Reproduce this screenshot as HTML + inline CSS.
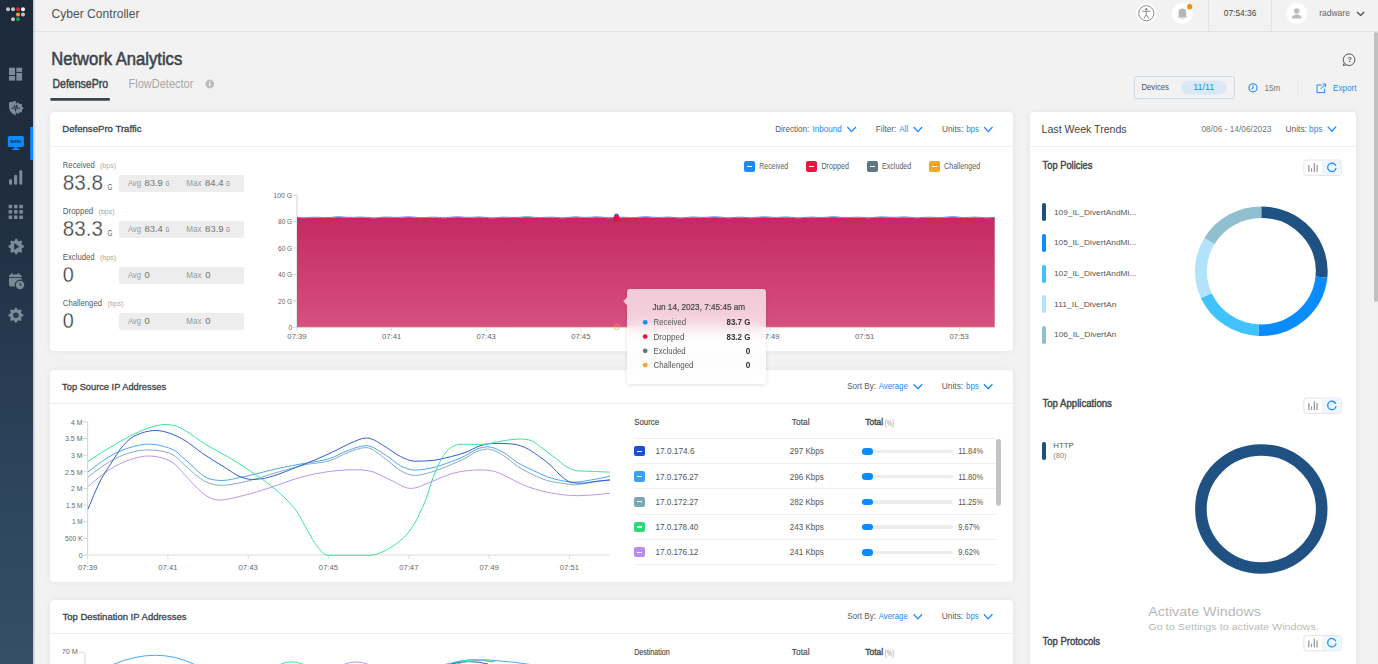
<!DOCTYPE html><html><head><meta charset="utf-8"><style>
*{margin:0;padding:0;box-sizing:border-box}
html,body{width:1378px;height:664px;overflow:hidden;background:#f2f2f2;font-family:"Liberation Sans",sans-serif}
.t{position:absolute;white-space:nowrap;line-height:1;transform-origin:0 0}
.a{position:absolute}
svg{position:absolute;overflow:visible}
.tx{left:0;top:0;font-family:'Liberation Sans',sans-serif}
.card{position:absolute;background:#fff;border-radius:4px;box-shadow:0 0 6px rgba(0,0,0,0.07)}
</style></head><body>

<div class="a" style="left:33px;top:31px;width:1345px;height:1px;background:#e2e2e2;"></div>
<svg class="tx" width="1378" height="664"><text x="51.50" y="18.10" font-size="13.20" fill="#4d5257" textLength="88.01" lengthAdjust="spacingAndGlyphs">Cyber Controller</text></svg>
<svg style="left:0;top:0" width="1378" height="32">
<circle cx="1146.3" cy="13.3" r="10.3" fill="#fff"/>
<circle cx="1146.3" cy="13.3" r="7.6" fill="none" stroke="#8a8a8a" stroke-width="1"/>
<circle cx="1146.3" cy="9.2" r="1.2" fill="#8a8a8a"/>
<path d="M1142.3,11.3 L1150.3,11.3 M1146.3,11.3 L1146.3,14.6 L1143.9,18.4 M1146.3,14.6 L1148.7,18.4" stroke="#8a8a8a" stroke-width="1" fill="none"/>
<circle cx="1182.4" cy="13.4" r="10.5" fill="#fff"/>
<path d="M1178.6,16.6 L1178.6,12.2 Q1178.6,8.4 1182.4,8.4 Q1186.2,8.4 1186.2,12.2 L1186.2,16.6 L1187.3,17.4 L1177.5,17.4 Z" fill="#b5b5b5"/>
<rect x="1181.4" y="18.3" width="2" height="1" fill="#b5b5b5"/>
<circle cx="1189.7" cy="6.7" r="2.6" fill="#ff8a00"/>
<rect x="1208" y="0" width="1" height="31" fill="#e2e2e2"/>
<rect x="1271" y="0" width="1" height="31" fill="#e2e2e2"/>
<circle cx="1296.7" cy="13.3" r="10.5" fill="#fff"/>
<circle cx="1296.7" cy="11" r="2.8" fill="#bdbdbd"/>
<path d="M1291.6,18.6 Q1291.8,14.6 1296.7,14.4 Q1301.6,14.6 1301.8,18.6 Z" fill="#bdbdbd"/>
<path d="M1357,12 L1360.6,15.4 L1364.2,12" stroke="#444" stroke-width="1.2" fill="none"/>
</svg>
<svg class="tx" width="1378" height="664"><text x="1223.80" y="16.20" font-size="9.00" fill="#444" textLength="32.58" lengthAdjust="spacingAndGlyphs">07:54:36</text><text x="1319.20" y="16.20" font-size="9.60" fill="#666" textLength="30.68" lengthAdjust="spacingAndGlyphs">radware</text></svg>
<div class="a" style="left:0;top:0;width:33px;height:664px;background:linear-gradient(#1d2a3b,#1f2d3f 30%,#2c435b 70%,#354f69);box-shadow:1px 0 2px rgba(0,0,0,0.25)"></div>
<svg style="left:0;top:0" width="34" height="664">
<g>
<circle cx="8" cy="9.3" r="2" fill="#c5c5c5"/><circle cx="13" cy="9.3" r="2" fill="#c5c5c5"/>
<circle cx="18" cy="9.3" r="2" fill="#d9262c"/><circle cx="23" cy="9.3" r="2" fill="#fff"/>
<circle cx="18" cy="14.4" r="2" fill="#f5a623"/><circle cx="23" cy="14.4" r="2" fill="#c5c5c5"/>
<circle cx="13" cy="19.3" r="2" fill="#c5c5c5"/><circle cx="18" cy="19.3" r="2" fill="#1f9a3a"/>
</g>
<g fill="#7c8998">
<rect x="9" y="67.7" width="6" height="7.4"/><rect x="9" y="76" width="6" height="4.6"/>
<rect x="16.3" y="67.7" width="5.8" height="4.2"/><rect x="16.3" y="72.9" width="5.8" height="7.7"/>
</g>
<g fill="#7c8998">
<path d="M15.8,100.7 Q12.4,101.9 9,102.3 L9,107 Q9.3,112.8 15.8,115.5 Z"/>
<path d="M17.14,102.53 L18.26,102.53 L19.01,103.89 L19.82,104.23 L21.32,103.79 L22.11,104.58 L21.67,106.08 L22.01,106.89 L23.37,107.64 L23.37,108.76 L22.01,109.51 L21.67,110.32 L22.11,111.82 L21.32,112.61 L19.82,112.17 L19.01,112.51 L18.26,113.87 L17.14,113.87 L16.39,112.51 L15.58,112.17 L14.08,112.61 L13.29,111.82 L13.73,110.32 L13.39,109.51 L12.03,108.76 L12.03,107.64 L13.39,106.89 L13.73,106.08 L13.29,104.58 L14.08,103.79 L15.58,104.23 L16.39,103.89 Z"/>
<circle cx="17.7" cy="108.2" r="4.6"/>
</g>
<path d="M11.4,108.3 L13.6,108.3 L14.6,105.4 L15.6,111.2 L16.6,105.0 L17.6,108.3 L19.8,108.3" stroke="#1f2d3f" stroke-width="0.9" fill="none"/>
<g fill="#0a8cff">
<rect x="7.8" y="136.1" width="16.1" height="10.9" rx="1.5"/>
<rect x="14.6" y="146.5" width="2.1" height="2.5"/>
<rect x="12.1" y="148.6" width="7.3" height="1.4" rx="0.7"/>
</g>
<text x="15.85" y="143.4" font-family="Liberation Sans" font-weight="bold" font-size="6.2" fill="#1f2d3f" text-anchor="middle" textLength="11" lengthAdjust="spacingAndGlyphs">ams</text>
<rect x="30.2" y="127" width="2.8" height="33" fill="#0a8cff"/>
<g fill="#7c8998">
<rect x="9" y="179" width="3.1" height="5.8" rx="1.5"/>
<rect x="14" y="174.8" width="3.2" height="10" rx="1.5"/>
<rect x="19.3" y="170" width="3" height="14.8" rx="1.5"/>
</g>
<g fill="#7c8998">
<rect x="8.6" y="204.8" width="3.5" height="3.5"/><rect x="14" y="204.8" width="3.5" height="3.5"/><rect x="19.3" y="204.8" width="3.6" height="3.5"/>
<rect x="8.6" y="210.1" width="3.5" height="3.5"/><rect x="14" y="210.1" width="3.5" height="3.5"/><rect x="19.3" y="210.1" width="3.6" height="3.5"/>
<rect x="8.6" y="215.5" width="3.5" height="3.5"/><rect x="14" y="215.5" width="3.5" height="3.5"/><rect x="19.3" y="215.5" width="3.6" height="3.5"/>
</g>
</svg>
<svg style="left:0;top:0" width="34" height="664">
<path d="M15.44,238.84 L16.96,238.84 L17.94,240.86 L19.03,241.31 L21.15,240.57 L22.23,241.65 L21.49,243.77 L21.94,244.86 L23.96,245.84 L23.96,247.36 L21.94,248.34 L21.49,249.43 L22.23,251.55 L21.15,252.63 L19.03,251.89 L17.94,252.34 L16.96,254.36 L15.44,254.36 L14.46,252.34 L13.37,251.89 L11.25,252.63 L10.17,251.55 L10.91,249.43 L10.46,248.34 L8.44,247.36 L8.44,245.84 L10.46,244.86 L10.91,243.77 L10.17,241.65 L11.25,240.57 L13.37,241.31 L14.46,240.86 Z" fill="#7c8998"/>
<path d="M14.2,243.2 L14.2,250 L19.3,246.6 Z" fill="#22344a"/>
<rect x="9" y="274.5" width="12.5" height="12" rx="1.8" fill="#7c8998"/>
<rect x="11.2" y="273.2" width="1.6" height="2.8" fill="#7c8998"/><rect x="17.6" y="273.2" width="1.6" height="2.8" fill="#7c8998"/>
<rect x="9" y="277" width="12.5" height="0.9" fill="#26384d"/>
<circle cx="20" cy="285" r="4.8" fill="#7c8998" stroke="#26384d" stroke-width="1.2"/>
<path d="M20,282.4 L20,285.2 L22,285.2" stroke="#26384d" stroke-width="0.9" fill="none"/>
<path d="M15.16,307.74 L16.64,307.74 L17.58,309.65 L18.63,310.08 L20.66,309.40 L21.70,310.44 L21.02,312.47 L21.45,313.52 L23.36,314.46 L23.36,315.94 L21.45,316.88 L21.02,317.93 L21.70,319.96 L20.66,321.00 L18.63,320.32 L17.58,320.75 L16.64,322.66 L15.16,322.66 L14.22,320.75 L13.17,320.32 L11.14,321.00 L10.10,319.96 L10.78,317.93 L10.35,316.88 L8.44,315.94 L8.44,314.46 L10.35,313.52 L10.78,312.47 L10.10,310.44 L11.14,309.40 L13.17,310.08 L14.22,309.65 Z" fill="#7c8998"/>
<circle cx="15.9" cy="315.2" r="2.8" fill="#283c52"/>
</svg>
<svg class="tx" width="1378" height="664"><text x="51.20" y="65.10" font-size="18.00" fill="#3d4349" stroke="#3d4349" stroke-width="0.55" textLength="131.03" lengthAdjust="spacingAndGlyphs">Network Analytics</text><text x="52.40" y="88.00" font-size="11.90" fill="#3d4349" stroke="#3d4349" stroke-width="0.45" textLength="55.81" lengthAdjust="spacingAndGlyphs">DefensePro</text><text x="128.60" y="88.00" font-size="11.90" fill="#a8a8a8" textLength="64.71" lengthAdjust="spacingAndGlyphs">FlowDetector</text></svg>
<svg style="left:0;top:0" width="1378" height="110">
<circle cx="209.8" cy="84" r="4.4" fill="#bcbcbc"/>
<rect x="209.2" y="83" width="1.2" height="3.2" fill="#fff"/><rect x="209.2" y="81.2" width="1.2" height="1.1" fill="#fff"/>
<rect x="50.2" y="98.1" width="59.8" height="2.6" rx="1.3" fill="#3d4349"/>
<circle cx="1349.1" cy="59.7" r="5.8" fill="none" stroke="#555" stroke-width="1"/>
<path d="M1344.2,63.2 L1343.2,65.6 L1346.4,64.6" fill="#f2f2f2" stroke="#555" stroke-width="1"/>
<rect x="1134.3" y="76.6" width="100" height="22" rx="2" fill="none" stroke="#cdd8e3" stroke-width="1"/>
<rect x="1181.1" y="80.7" width="45.6" height="14.1" rx="7" fill="#dbe9f6"/>
<circle cx="1253" cy="87.8" r="4.1" fill="none" stroke="#1a8cff" stroke-width="1.1"/>
<path d="M1253,85.3 L1253,88 L1251.2,89.2" stroke="#1a8cff" stroke-width="1" fill="none"/>
<rect x="1297.5" y="78.7" width="0.8" height="20" fill="#e6e6e6"/>
<path d="M1321.5,85 L1317,85 L1317,92.6 L1324.6,92.6 L1324.6,88.6" stroke="#1a8cff" stroke-width="1" fill="none"/>
<path d="M1320.6,89 L1325.6,84 M1322.6,84 L1325.6,84 L1325.6,87" stroke="#1a8cff" stroke-width="1" fill="none"/>
</svg>
<svg class="tx" width="1378" height="664"><text x="1347.40" y="62.30" font-size="7.00" fill="#555" font-weight="bold">?</text><text x="1141.40" y="90.10" font-size="8.60" fill="#555" textLength="27.61" lengthAdjust="spacingAndGlyphs">Devices</text><text x="1193.30" y="90.10" font-size="8.60" fill="#1a8cff" textLength="20.99" lengthAdjust="spacingAndGlyphs">11/11</text><text x="1264.40" y="90.60" font-size="8.60" fill="#777" textLength="15.80" lengthAdjust="spacingAndGlyphs">15m</text><text x="1333.00" y="91.20" font-size="8.60" fill="#1a8cff" textLength="23.60" lengthAdjust="spacingAndGlyphs">Export</text></svg>
<div class="card" style="left:50px;top:112px;width:963px;height:238.8px"></div>
<div class="card" style="left:50px;top:369.5px;width:963px;height:212.2px"></div>
<div class="card" style="left:50px;top:599.5px;width:963px;height:100px"></div>
<div class="card" style="left:1030px;top:112px;width:326px;height:600px"></div>
<div class="a" style="left:50px;top:146px;width:963px;height:1px;background:#f0f0f0;"></div>
<div class="a" style="left:1030px;top:146px;width:326px;height:1px;background:#f0f0f0;"></div>
<div class="a" style="left:50px;top:403px;width:963px;height:1px;background:#ededed;"></div>
<div class="a" style="left:50px;top:633px;width:963px;height:1px;background:#ededed;"></div>
<svg class="tx" width="1378" height="664"><text x="62.30" y="131.90" font-size="9.50" fill="#3d4349" stroke="#3d4349" stroke-width="0.3" textLength="79.19" lengthAdjust="spacingAndGlyphs">DefensePro Traffic</text><text x="775.20" y="132.00" font-size="9.00" fill="#575c61" textLength="34.09" lengthAdjust="spacingAndGlyphs">Direction:</text><text x="812.40" y="132.00" font-size="9.00" fill="#1a8cff" textLength="29.30" lengthAdjust="spacingAndGlyphs">Inbound</text></svg>
<svg style="left:0;top:0" width="1" height="1"><path d="M847.4,127.0 L851.6,131.6 L855.8,127.0" stroke="#1a8cff" stroke-width="1.3" fill="none"/></svg>
<svg class="tx" width="1378" height="664"><text x="875.80" y="132.00" font-size="9.00" fill="#575c61" textLength="20.50" lengthAdjust="spacingAndGlyphs">Filter:</text><text x="899.20" y="132.00" font-size="9.00" fill="#1a8cff" textLength="9.01" lengthAdjust="spacingAndGlyphs">All</text></svg>
<svg style="left:0;top:0" width="1" height="1"><path d="M913.7,127.0 L917.9000000000001,131.6 L922.1,127.0" stroke="#1a8cff" stroke-width="1.3" fill="none"/></svg>
<svg class="tx" width="1378" height="664"><text x="942.00" y="132.00" font-size="9.00" fill="#575c61" textLength="21.21" lengthAdjust="spacingAndGlyphs">Units:</text><text x="966.20" y="132.00" font-size="9.00" fill="#1a8cff" textLength="12.82" lengthAdjust="spacingAndGlyphs">bps</text></svg>
<svg style="left:0;top:0" width="1" height="1"><path d="M984.1,127.0 L988.3000000000001,131.6 L992.5,127.0" stroke="#1a8cff" stroke-width="1.3" fill="none"/></svg>
<svg class="tx" width="1378" height="664"><text x="62.80" y="167.70" font-size="8.60" fill="#575c61" textLength="32.09" lengthAdjust="spacingAndGlyphs">Received</text><text x="100.00" y="167.90" font-size="8.00" fill="#aaa" textLength="16.09" lengthAdjust="spacingAndGlyphs">(bps)</text><text x="62.80" y="190.10" font-size="21.30" fill="#3a3f44" stroke="#fff" stroke-width="0.3" textLength="40.33" lengthAdjust="spacingAndGlyphs">83.8</text><text x="107.40" y="189.80" font-size="8.20" fill="#666" textLength="4.89" lengthAdjust="spacingAndGlyphs">G</text></svg>
<div class="a" style="left:119.4px;top:175.2px;width:124.8px;height:16.6px;background:#ededed;border-radius:2px"></div>
<svg class="tx" width="1378" height="664"><text x="127.90" y="185.90" font-size="9.40" fill="#9a9a9a" textLength="13.10" lengthAdjust="spacingAndGlyphs">Avg</text><text x="144.40" y="185.90" font-size="9.40" fill="#555" stroke="#ededed" stroke-width="0.12" textLength="18.41" lengthAdjust="spacingAndGlyphs">83.9</text><text x="165.40" y="186.40" font-size="7.00" fill="#777" textLength="3.89" lengthAdjust="spacingAndGlyphs">G</text><text x="186.30" y="185.90" font-size="9.40" fill="#9a9a9a" textLength="15.19" lengthAdjust="spacingAndGlyphs">Max</text><text x="205.00" y="185.90" font-size="9.40" fill="#555" stroke="#ededed" stroke-width="0.12" textLength="18.61" lengthAdjust="spacingAndGlyphs">84.4</text><text x="226.00" y="186.40" font-size="7.00" fill="#777" textLength="3.89" lengthAdjust="spacingAndGlyphs">G</text><text x="62.80" y="213.70" font-size="8.60" fill="#575c61" textLength="30.41" lengthAdjust="spacingAndGlyphs">Dropped</text><text x="98.60" y="213.90" font-size="8.00" fill="#aaa" textLength="16.09" lengthAdjust="spacingAndGlyphs">(bps)</text><text x="62.80" y="236.10" font-size="21.30" fill="#3a3f44" stroke="#fff" stroke-width="0.3" textLength="40.03" lengthAdjust="spacingAndGlyphs">83.3</text><text x="107.40" y="235.80" font-size="8.20" fill="#666" textLength="4.89" lengthAdjust="spacingAndGlyphs">G</text></svg>
<div class="a" style="left:119.4px;top:221.2px;width:124.8px;height:16.6px;background:#ededed;border-radius:2px"></div>
<svg class="tx" width="1378" height="664"><text x="127.90" y="231.90" font-size="9.40" fill="#9a9a9a" textLength="13.10" lengthAdjust="spacingAndGlyphs">Avg</text><text x="144.40" y="231.90" font-size="9.40" fill="#555" stroke="#ededed" stroke-width="0.12" textLength="18.41" lengthAdjust="spacingAndGlyphs">83.4</text><text x="165.40" y="232.40" font-size="7.00" fill="#777" textLength="3.89" lengthAdjust="spacingAndGlyphs">G</text><text x="186.30" y="231.90" font-size="9.40" fill="#9a9a9a" textLength="15.19" lengthAdjust="spacingAndGlyphs">Max</text><text x="205.00" y="231.90" font-size="9.40" fill="#555" stroke="#ededed" stroke-width="0.12" textLength="18.61" lengthAdjust="spacingAndGlyphs">83.9</text><text x="226.00" y="232.40" font-size="7.00" fill="#777" textLength="3.89" lengthAdjust="spacingAndGlyphs">G</text><text x="62.80" y="259.70" font-size="8.60" fill="#575c61" textLength="31.79" lengthAdjust="spacingAndGlyphs">Excluded</text><text x="100.00" y="259.90" font-size="8.00" fill="#aaa" textLength="16.09" lengthAdjust="spacingAndGlyphs">(bps)</text><text x="62.80" y="282.10" font-size="21.30" fill="#3a3f44" stroke="#fff" stroke-width="0.3" textLength="11.02" lengthAdjust="spacingAndGlyphs">0</text></svg>
<div class="a" style="left:119.4px;top:267.2px;width:124.8px;height:16.6px;background:#ededed;border-radius:2px"></div>
<svg class="tx" width="1378" height="664"><text x="127.90" y="277.90" font-size="9.40" fill="#9a9a9a" textLength="13.10" lengthAdjust="spacingAndGlyphs">Avg</text><text x="144.60" y="277.90" font-size="9.40" fill="#555" stroke="#ededed" stroke-width="0.12">0</text><text x="186.30" y="277.90" font-size="9.40" fill="#9a9a9a" textLength="15.19" lengthAdjust="spacingAndGlyphs">Max</text><text x="205.20" y="277.90" font-size="9.40" fill="#555" stroke="#ededed" stroke-width="0.12">0</text><text x="62.80" y="305.70" font-size="8.60" fill="#575c61" textLength="39.20" lengthAdjust="spacingAndGlyphs">Challenged</text><text x="107.60" y="305.90" font-size="8.00" fill="#aaa" textLength="16.09" lengthAdjust="spacingAndGlyphs">(bps)</text><text x="62.80" y="328.10" font-size="21.30" fill="#3a3f44" stroke="#fff" stroke-width="0.3" textLength="11.02" lengthAdjust="spacingAndGlyphs">0</text></svg>
<div class="a" style="left:119.4px;top:313.2px;width:124.8px;height:16.6px;background:#ededed;border-radius:2px"></div>
<svg class="tx" width="1378" height="664"><text x="127.90" y="323.90" font-size="9.40" fill="#9a9a9a" textLength="13.10" lengthAdjust="spacingAndGlyphs">Avg</text><text x="144.60" y="323.90" font-size="9.40" fill="#555" stroke="#ededed" stroke-width="0.12">0</text><text x="186.30" y="323.90" font-size="9.40" fill="#9a9a9a" textLength="15.19" lengthAdjust="spacingAndGlyphs">Max</text><text x="205.20" y="323.90" font-size="9.40" fill="#555" stroke="#ededed" stroke-width="0.12">0</text></svg>
<div class="a" style="left:743.9px;top:161.1px;width:10.8px;height:10.8px;background:#1a8cff;border-radius:2px"></div>
<div class="a" style="left:747.0px;top:165.8px;width:4.8px;height:1.3px;background:#fff;"></div>
<svg class="tx" width="1378" height="664"><text x="759.30" y="169.10" font-size="8.30" fill="#606060" textLength="28.89" lengthAdjust="spacingAndGlyphs">Received</text></svg>
<div class="a" style="left:805.9px;top:161.1px;width:10.8px;height:10.8px;background:#e8173f;border-radius:2px"></div>
<div class="a" style="left:809.0px;top:165.8px;width:4.8px;height:1.3px;background:#fff;"></div>
<svg class="tx" width="1378" height="664"><text x="821.40" y="169.10" font-size="8.30" fill="#606060" textLength="27.51" lengthAdjust="spacingAndGlyphs">Dropped</text></svg>
<div class="a" style="left:867.0px;top:161.1px;width:10.8px;height:10.8px;background:#5f7684;border-radius:2px"></div>
<div class="a" style="left:870.1px;top:165.8px;width:4.8px;height:1.3px;background:#fff;"></div>
<svg class="tx" width="1378" height="664"><text x="882.00" y="169.10" font-size="8.30" fill="#606060" textLength="29.29" lengthAdjust="spacingAndGlyphs">Excluded</text></svg>
<div class="a" style="left:928.8px;top:161.1px;width:10.8px;height:10.8px;background:#f5a623;border-radius:2px"></div>
<div class="a" style="left:931.9px;top:165.8px;width:4.8px;height:1.3px;background:#fff;"></div>
<svg class="tx" width="1378" height="664"><text x="944.00" y="169.10" font-size="8.30" fill="#606060" textLength="36.20" lengthAdjust="spacingAndGlyphs">Challenged</text><text x="288.40" y="330.00" font-size="7.80" fill="#666" textLength="3.81" lengthAdjust="spacingAndGlyphs">0</text><text x="278.00" y="303.60" font-size="7.80" fill="#666" textLength="14.19" lengthAdjust="spacingAndGlyphs">20 G</text><text x="278.00" y="277.20" font-size="7.80" fill="#666" textLength="14.19" lengthAdjust="spacingAndGlyphs">40 G</text><text x="278.00" y="250.80" font-size="7.80" fill="#666" textLength="14.19" lengthAdjust="spacingAndGlyphs">60 G</text><text x="278.00" y="224.40" font-size="7.80" fill="#666" textLength="14.19" lengthAdjust="spacingAndGlyphs">80 G</text><text x="273.40" y="198.00" font-size="7.80" fill="#666" textLength="18.79" lengthAdjust="spacingAndGlyphs">100 G</text></svg>
<svg style="left:0;top:0" width="1378" height="664">
<defs><linearGradient id="ag" x1="0" y1="0" x2="0" y2="1"><stop offset="0" stop-color="#c42a62"/><stop offset="1" stop-color="#d6517f"/></linearGradient></defs>
<rect x="296.5" y="195" width="1" height="132.7" fill="#d5d5d5"/>
<rect x="292.5" y="326.7" width="4.5" height="1" fill="#d5d5d5"/><rect x="292.5" y="300.3" width="4.5" height="1" fill="#d5d5d5"/><rect x="292.5" y="273.9" width="4.5" height="1" fill="#d5d5d5"/><rect x="292.5" y="247.5" width="4.5" height="1" fill="#d5d5d5"/><rect x="292.5" y="221.1" width="4.5" height="1" fill="#d5d5d5"/><rect x="292.5" y="194.7" width="4.5" height="1" fill="#d5d5d5"/>
<path d="M297.0,327.2 L297.0,218.0 L299.9,218.3 L302.8,218.4 L305.7,218.4 L308.6,218.2 L311.5,218.0 L314.4,217.9 L317.3,217.9 L320.3,218.1 L323.2,218.3 L326.1,218.3 L329.0,218.2 L331.9,218.0 L334.8,217.7 L337.7,217.5 L340.6,217.6 L343.5,217.7 L346.4,218.0 L349.3,218.1 L352.2,218.1 L355.1,218.0 L358.0,217.8 L361.0,217.8 L363.9,217.9 L366.8,218.1 L369.7,218.3 L372.6,218.5 L375.5,218.5 L378.4,218.3 L381.3,218.0 L384.2,217.8 L387.1,217.8 L390.0,217.9 L392.9,218.0 L395.8,218.1 L398.7,218.1 L401.7,217.9 L404.6,217.7 L407.5,217.5 L410.4,217.6 L413.3,217.8 L416.2,218.0 L419.1,218.3 L422.0,218.3 L424.9,218.3 L427.8,218.1 L430.7,217.9 L433.6,217.9 L436.5,218.0 L439.4,218.2 L442.4,218.4 L445.3,218.4 L448.2,218.2 L451.1,217.9 L454.0,217.7 L456.9,217.6 L459.8,217.6 L462.7,217.8 L465.6,218.0 L468.5,218.1 L471.4,218.0 L474.3,217.9 L477.2,217.7 L480.1,217.7 L483.1,217.9 L486.0,218.1 L488.9,218.4 L491.8,218.5 L494.7,218.4 L497.6,218.2 L500.5,218.0 L503.4,217.8 L506.3,217.9 L509.2,218.0 L512.1,218.2 L515.0,218.2 L517.9,218.1 L520.8,217.9 L523.8,217.6 L526.7,217.5 L529.6,217.6 L532.5,217.8 L535.4,218.1 L538.3,218.2 L541.2,218.2 L544.1,218.1 L547.0,217.9 L549.9,217.9 L552.8,217.9 L555.7,218.1 L558.6,218.3 L561.5,218.5 L564.5,218.4 L567.4,218.2 L570.3,217.9 L573.2,217.7 L576.1,217.6 L579.0,217.8 L581.9,218.0 L584.8,218.1 L587.7,218.1 L590.6,217.9 L593.5,217.7 L596.4,217.6 L599.3,217.7 L602.2,217.9 L605.2,218.2 L608.1,218.4 L611.0,218.4 L613.9,218.3 L616.8,218.1 L619.7,217.9 L622.6,217.9 L625.5,218.0 L628.4,218.2 L631.3,218.3 L634.2,218.3 L637.1,218.1 L640.0,217.8 L642.9,217.6 L645.9,217.5 L648.8,217.6 L651.7,217.9 L654.6,218.1 L657.5,218.2 L660.4,218.1 L663.3,218.0 L666.2,217.8 L669.1,217.8 L672.0,218.0 L674.9,218.2 L677.8,218.4 L680.7,218.5 L683.6,218.4 L686.5,218.1 L689.5,217.9 L692.4,217.7 L695.3,217.8 L698.2,217.9 L701.1,218.1 L704.0,218.1 L706.9,218.0 L709.8,217.8 L712.7,217.6 L715.6,217.5 L718.5,217.7 L721.4,217.9 L724.3,218.2 L727.2,218.4 L730.2,218.4 L733.1,218.2 L736.0,218.0 L738.9,217.9 L741.8,217.9 L744.7,218.1 L747.6,218.3 L750.5,218.4 L753.4,218.3 L756.3,218.0 L759.2,217.8 L762.1,217.6 L765.0,217.6 L767.9,217.7 L770.9,217.9 L773.8,218.1 L776.7,218.1 L779.6,218.0 L782.5,217.8 L785.4,217.7 L788.3,217.8 L791.2,218.0 L794.1,218.3 L797.0,218.5 L799.9,218.5 L802.8,218.3 L805.7,218.1 L808.6,217.9 L811.6,217.8 L814.5,217.9 L817.4,218.1 L820.3,218.2 L823.2,218.1 L826.1,218.0 L829.0,217.7 L831.9,217.5 L834.8,217.5 L837.7,217.7 L840.6,218.0 L843.5,218.2 L846.4,218.3 L849.3,218.2 L852.3,218.1 L855.2,217.9 L858.1,217.9 L861.0,218.0 L863.9,218.2 L866.8,218.4 L869.7,218.4 L872.6,218.3 L875.5,218.0 L878.4,217.7 L881.3,217.6 L884.2,217.7 L887.1,217.8 L890.0,218.0 L893.0,218.1 L895.9,218.0 L898.8,217.9 L901.7,217.7 L904.6,217.7 L907.5,217.8 L910.4,218.1 L913.3,218.3 L916.2,218.5 L919.1,218.4 L922.0,218.2 L924.9,218.0 L927.8,217.9 L930.7,217.9 L933.7,218.0 L936.6,218.2 L939.5,218.3 L942.4,218.2 L945.3,217.9 L948.2,217.7 L951.1,217.5 L954.0,217.5 L956.9,217.7 L959.8,218.0 L962.7,218.2 L965.6,218.2 L968.5,218.1 L971.4,217.9 L974.4,217.8 L977.3,217.9 L980.2,218.1 L983.1,218.3 L986.0,218.5 L988.9,218.4 L991.8,218.2 L994.7,218.0 L994.7,327.2 Z" fill="url(#ag)"/>
<path d="M297.0,218.4 L299.9,218.7 L302.8,218.8 L305.7,218.8 L308.6,218.6 L311.5,218.4 L314.4,218.3 L317.3,218.3 L320.3,218.5 L323.2,218.7 L326.1,218.7 L329.0,218.6 L331.9,218.4 L334.8,218.1 L337.7,217.9 L340.6,218.0 L343.5,218.1 L346.4,218.4 L349.3,218.5 L352.2,218.5 L355.1,218.4 L358.0,218.2 L361.0,218.2 L363.9,218.3 L366.8,218.5 L369.7,218.7 L372.6,218.9 L375.5,218.9 L378.4,218.7 L381.3,218.4 L384.2,218.2 L387.1,218.2 L390.0,218.3 L392.9,218.4 L395.8,218.5 L398.7,218.5 L401.7,218.3 L404.6,218.1 L407.5,217.9 L410.4,218.0 L413.3,218.2 L416.2,218.4 L419.1,218.7 L422.0,218.7 L424.9,218.7 L427.8,218.5 L430.7,218.3 L433.6,218.3 L436.5,218.4 L439.4,218.6 L442.4,218.8 L445.3,218.8 L448.2,218.6 L451.1,218.3 L454.0,218.1 L456.9,218.0 L459.8,218.0 L462.7,218.2 L465.6,218.4 L468.5,218.5 L471.4,218.4 L474.3,218.3 L477.2,218.1 L480.1,218.1 L483.1,218.3 L486.0,218.5 L488.9,218.8 L491.8,218.9 L494.7,218.8 L497.6,218.6 L500.5,218.4 L503.4,218.2 L506.3,218.3 L509.2,218.4 L512.1,218.6 L515.0,218.6 L517.9,218.5 L520.8,218.3 L523.8,218.0 L526.7,217.9 L529.6,218.0 L532.5,218.2 L535.4,218.5 L538.3,218.6 L541.2,218.6 L544.1,218.5 L547.0,218.3 L549.9,218.3 L552.8,218.3 L555.7,218.5 L558.6,218.7 L561.5,218.9 L564.5,218.8 L567.4,218.6 L570.3,218.3 L573.2,218.1 L576.1,218.0 L579.0,218.2 L581.9,218.4 L584.8,218.5 L587.7,218.5 L590.6,218.3 L593.5,218.1 L596.4,218.0 L599.3,218.1 L602.2,218.3 L605.2,218.6 L608.1,218.8 L611.0,218.8 L613.9,218.7 L616.8,218.5 L619.7,218.3 L622.6,218.3 L625.5,218.4 L628.4,218.6 L631.3,218.7 L634.2,218.7 L637.1,218.5 L640.0,218.2 L642.9,218.0 L645.9,217.9 L648.8,218.0 L651.7,218.3 L654.6,218.5 L657.5,218.6 L660.4,218.5 L663.3,218.4 L666.2,218.2 L669.1,218.2 L672.0,218.4 L674.9,218.6 L677.8,218.8 L680.7,218.9 L683.6,218.8 L686.5,218.5 L689.5,218.3 L692.4,218.1 L695.3,218.2 L698.2,218.3 L701.1,218.5 L704.0,218.5 L706.9,218.4 L709.8,218.2 L712.7,218.0 L715.6,217.9 L718.5,218.1 L721.4,218.3 L724.3,218.6 L727.2,218.8 L730.2,218.8 L733.1,218.6 L736.0,218.4 L738.9,218.3 L741.8,218.3 L744.7,218.5 L747.6,218.7 L750.5,218.8 L753.4,218.7 L756.3,218.4 L759.2,218.2 L762.1,218.0 L765.0,218.0 L767.9,218.1 L770.9,218.3 L773.8,218.5 L776.7,218.5 L779.6,218.4 L782.5,218.2 L785.4,218.1 L788.3,218.2 L791.2,218.4 L794.1,218.7 L797.0,218.9 L799.9,218.9 L802.8,218.7 L805.7,218.5 L808.6,218.3 L811.6,218.2 L814.5,218.3 L817.4,218.5 L820.3,218.6 L823.2,218.5 L826.1,218.4 L829.0,218.1 L831.9,217.9 L834.8,217.9 L837.7,218.1 L840.6,218.4 L843.5,218.6 L846.4,218.7 L849.3,218.6 L852.3,218.5 L855.2,218.3 L858.1,218.3 L861.0,218.4 L863.9,218.6 L866.8,218.8 L869.7,218.8 L872.6,218.7 L875.5,218.4 L878.4,218.1 L881.3,218.0 L884.2,218.1 L887.1,218.2 L890.0,218.4 L893.0,218.5 L895.9,218.4 L898.8,218.3 L901.7,218.1 L904.6,218.1 L907.5,218.2 L910.4,218.5 L913.3,218.7 L916.2,218.9 L919.1,218.8 L922.0,218.6 L924.9,218.4 L927.8,218.3 L930.7,218.3 L933.7,218.4 L936.6,218.6 L939.5,218.7 L942.4,218.6 L945.3,218.3 L948.2,218.1 L951.1,217.9 L954.0,217.9 L956.9,218.1 L959.8,218.4 L962.7,218.6 L965.6,218.6 L968.5,218.5 L971.4,218.3 L974.4,218.2 L977.3,218.3 L980.2,218.5 L983.1,218.7 L986.0,218.9 L988.9,218.8 L991.8,218.6 L994.7,218.4" stroke="#dc1a50" stroke-width="1" fill="none"/>
<path d="M297.0,217.3 L299.9,217.6 L302.8,217.7 L305.7,217.7 L308.6,217.5 L311.5,217.3 L314.4,217.2 L317.3,217.2 L320.3,217.4 L323.2,217.6 L326.1,217.6 L329.0,217.5 L331.9,217.3 L334.8,217.0 L337.7,216.8 L340.6,216.9 L343.5,217.0 L346.4,217.3 L349.3,217.4 L352.2,217.4 L355.1,217.3 L358.0,217.1 L361.0,217.1 L363.9,217.2 L366.8,217.4 L369.7,217.6 L372.6,217.8 L375.5,217.8 L378.4,217.6 L381.3,217.3 L384.2,217.1 L387.1,217.1 L390.0,217.2 L392.9,217.3 L395.8,217.4 L398.7,217.4 L401.7,217.2 L404.6,217.0 L407.5,216.8 L410.4,216.9 L413.3,217.1 L416.2,217.3 L419.1,217.6 L422.0,217.6 L424.9,217.6 L427.8,217.4 L430.7,217.2 L433.6,217.2 L436.5,217.3 L439.4,217.5 L442.4,217.7 L445.3,217.7 L448.2,217.5 L451.1,217.2 L454.0,217.0 L456.9,216.9 L459.8,216.9 L462.7,217.1 L465.6,217.3 L468.5,217.4 L471.4,217.3 L474.3,217.2 L477.2,217.0 L480.1,217.0 L483.1,217.2 L486.0,217.4 L488.9,217.7 L491.8,217.8 L494.7,217.7 L497.6,217.5 L500.5,217.3 L503.4,217.1 L506.3,217.2 L509.2,217.3 L512.1,217.5 L515.0,217.5 L517.9,217.4 L520.8,217.2 L523.8,216.9 L526.7,216.8 L529.6,216.9 L532.5,217.1 L535.4,217.4 L538.3,217.5 L541.2,217.5 L544.1,217.4 L547.0,217.2 L549.9,217.2 L552.8,217.2 L555.7,217.4 L558.6,217.6 L561.5,217.8 L564.5,217.7 L567.4,217.5 L570.3,217.2 L573.2,217.0 L576.1,216.9 L579.0,217.1 L581.9,217.3 L584.8,217.4 L587.7,217.4 L590.6,217.2 L593.5,217.0 L596.4,216.9 L599.3,217.0 L602.2,217.2 L605.2,217.5 L608.1,217.7 L611.0,217.7 L613.9,217.6 L616.8,217.4 L619.7,217.2 L622.6,217.2 L625.5,217.3 L628.4,217.5 L631.3,217.6 L634.2,217.6 L637.1,217.4 L640.0,217.1 L642.9,216.9 L645.9,216.8 L648.8,216.9 L651.7,217.2 L654.6,217.4 L657.5,217.5 L660.4,217.4 L663.3,217.3 L666.2,217.1 L669.1,217.1 L672.0,217.3 L674.9,217.5 L677.8,217.7 L680.7,217.8 L683.6,217.7 L686.5,217.4 L689.5,217.2 L692.4,217.0 L695.3,217.1 L698.2,217.2 L701.1,217.4 L704.0,217.4 L706.9,217.3 L709.8,217.1 L712.7,216.9 L715.6,216.8 L718.5,217.0 L721.4,217.2 L724.3,217.5 L727.2,217.7 L730.2,217.7 L733.1,217.5 L736.0,217.3 L738.9,217.2 L741.8,217.2 L744.7,217.4 L747.6,217.6 L750.5,217.7 L753.4,217.6 L756.3,217.3 L759.2,217.1 L762.1,216.9 L765.0,216.9 L767.9,217.0 L770.9,217.2 L773.8,217.4 L776.7,217.4 L779.6,217.3 L782.5,217.1 L785.4,217.0 L788.3,217.1 L791.2,217.3 L794.1,217.6 L797.0,217.8 L799.9,217.8 L802.8,217.6 L805.7,217.4 L808.6,217.2 L811.6,217.1 L814.5,217.2 L817.4,217.4 L820.3,217.5 L823.2,217.4 L826.1,217.3 L829.0,217.0 L831.9,216.8 L834.8,216.8 L837.7,217.0 L840.6,217.3 L843.5,217.5 L846.4,217.6 L849.3,217.5 L852.3,217.4 L855.2,217.2 L858.1,217.2 L861.0,217.3 L863.9,217.5 L866.8,217.7 L869.7,217.7 L872.6,217.6 L875.5,217.3 L878.4,217.0 L881.3,216.9 L884.2,217.0 L887.1,217.1 L890.0,217.3 L893.0,217.4 L895.9,217.3 L898.8,217.2 L901.7,217.0 L904.6,217.0 L907.5,217.1 L910.4,217.4 L913.3,217.6 L916.2,217.8 L919.1,217.7 L922.0,217.5 L924.9,217.3 L927.8,217.2 L930.7,217.2 L933.7,217.3 L936.6,217.5 L939.5,217.6 L942.4,217.5 L945.3,217.2 L948.2,217.0 L951.1,216.8 L954.0,216.8 L956.9,217.0 L959.8,217.3 L962.7,217.5 L965.6,217.5 L968.5,217.4 L971.4,217.2 L974.4,217.1 L977.3,217.2 L980.2,217.4 L983.1,217.6 L986.0,217.8 L988.9,217.7 L991.8,217.5 L994.7,217.3" stroke="#2f7fe0" stroke-width="0.9" fill="none"/>
<rect x="297.0" y="326.6" width="697.7" height="0.7" fill="#e8a94c" opacity="0.6"/>
<rect x="296.5" y="327.2" width="1" height="4" fill="#dcdcdc"/><rect x="391.1" y="327.2" width="1" height="4" fill="#dcdcdc"/><rect x="485.7" y="327.2" width="1" height="4" fill="#dcdcdc"/><rect x="580.3" y="327.2" width="1" height="4" fill="#dcdcdc"/><rect x="674.9" y="327.2" width="1" height="4" fill="#dcdcdc"/><rect x="769.5" y="327.2" width="1" height="4" fill="#dcdcdc"/><rect x="864.1" y="327.2" width="1" height="4" fill="#dcdcdc"/><rect x="958.7" y="327.2" width="1" height="4" fill="#dcdcdc"/>
<circle cx="616.5" cy="216.0" r="2.5" fill="#2a6fd6"/>
<circle cx="616.5" cy="218.6" r="3.2" fill="#e0103f"/>
<circle cx="616.6" cy="327.0" r="2.6" fill="none" stroke="#e8a94c" stroke-width="1" opacity="0.7"/>
</svg>
<svg class="tx" width="1378" height="664"><text x="287.35" y="339.00" font-size="7.80" fill="#666" textLength="19.28" lengthAdjust="spacingAndGlyphs">07:39</text><text x="381.95" y="339.00" font-size="7.80" fill="#666" textLength="19.28" lengthAdjust="spacingAndGlyphs">07:41</text><text x="476.55" y="339.00" font-size="7.80" fill="#666" textLength="19.28" lengthAdjust="spacingAndGlyphs">07:43</text><text x="571.15" y="339.00" font-size="7.80" fill="#666" textLength="19.28" lengthAdjust="spacingAndGlyphs">07:45</text><text x="760.35" y="339.00" font-size="7.80" fill="#666" textLength="19.28" lengthAdjust="spacingAndGlyphs">07:49</text><text x="854.95" y="339.00" font-size="7.80" fill="#666" textLength="19.28" lengthAdjust="spacingAndGlyphs">07:51</text><text x="949.55" y="339.00" font-size="7.80" fill="#666" textLength="19.28" lengthAdjust="spacingAndGlyphs">07:53</text><text x="62.10" y="389.60" font-size="9.50" fill="#3d4349" stroke="#3d4349" stroke-width="0.3" textLength="104.01" lengthAdjust="spacingAndGlyphs">Top Source IP Addresses</text><text x="847.20" y="389.30" font-size="9.00" fill="#575c61" textLength="28.81" lengthAdjust="spacingAndGlyphs">Sort By:</text><text x="878.70" y="389.30" font-size="9.00" fill="#1a8cff" textLength="29.11" lengthAdjust="spacingAndGlyphs">Average</text></svg>
<svg style="left:0;top:0" width="1" height="1"><path d="M913.7,384.2 L917.9000000000001,388.8 L922.1,384.2" stroke="#1a8cff" stroke-width="1.3" fill="none"/></svg>
<svg class="tx" width="1378" height="664"><text x="941.70" y="389.30" font-size="9.00" fill="#575c61" textLength="21.51" lengthAdjust="spacingAndGlyphs">Units:</text><text x="966.00" y="389.30" font-size="9.00" fill="#1a8cff" textLength="12.82" lengthAdjust="spacingAndGlyphs">bps</text></svg>
<svg style="left:0;top:0" width="1" height="1"><path d="M984.0,384.2 L988.2,388.8 L992.4,384.2" stroke="#1a8cff" stroke-width="1.3" fill="none"/></svg>
<svg class="tx" width="1378" height="664"><text x="78.70" y="557.70" font-size="7.60" fill="#666" textLength="3.81" lengthAdjust="spacingAndGlyphs">0</text><text x="65.00" y="541.06" font-size="7.60" fill="#666" textLength="17.49" lengthAdjust="spacingAndGlyphs">500 K</text><text x="71.90" y="524.43" font-size="7.60" fill="#666" textLength="10.61" lengthAdjust="spacingAndGlyphs">1 M</text><text x="65.90" y="507.79" font-size="7.60" fill="#666" textLength="16.61" lengthAdjust="spacingAndGlyphs">1.5 M</text><text x="71.10" y="491.15" font-size="7.60" fill="#666" textLength="11.41" lengthAdjust="spacingAndGlyphs">2 M</text><text x="64.90" y="474.51" font-size="7.60" fill="#666" textLength="17.61" lengthAdjust="spacingAndGlyphs">2.5 M</text><text x="71.10" y="457.88" font-size="7.60" fill="#666" textLength="11.41" lengthAdjust="spacingAndGlyphs">3 M</text><text x="64.90" y="441.24" font-size="7.60" fill="#666" textLength="17.61" lengthAdjust="spacingAndGlyphs">3.5 M</text><text x="71.10" y="424.60" font-size="7.60" fill="#666" textLength="11.41" lengthAdjust="spacingAndGlyphs">4 M</text><text x="77.95" y="570.00" font-size="7.60" fill="#666" textLength="19.28" lengthAdjust="spacingAndGlyphs">07:39</text><text x="158.25" y="570.00" font-size="7.60" fill="#666" textLength="19.28" lengthAdjust="spacingAndGlyphs">07:41</text><text x="238.55" y="570.00" font-size="7.60" fill="#666" textLength="19.28" lengthAdjust="spacingAndGlyphs">07:43</text><text x="318.85" y="570.00" font-size="7.60" fill="#666" textLength="19.28" lengthAdjust="spacingAndGlyphs">07:45</text><text x="399.15" y="570.00" font-size="7.60" fill="#666" textLength="19.28" lengthAdjust="spacingAndGlyphs">07:47</text><text x="479.45" y="570.00" font-size="7.60" fill="#666" textLength="19.28" lengthAdjust="spacingAndGlyphs">07:49</text><text x="559.75" y="570.00" font-size="7.60" fill="#666" textLength="19.28" lengthAdjust="spacingAndGlyphs">07:51</text></svg>
<svg style="left:0;top:0" width="1378" height="664">
<rect x="87.1" y="421.5" width="1" height="133.5" fill="#d5d5d5"/>
<rect x="87.6" y="554.5" width="522.1" height="1" fill="#dcdcdc"/>
<rect x="83" y="554.5" width="4.6" height="1" fill="#d5d5d5"/><rect x="83" y="537.9" width="4.6" height="1" fill="#d5d5d5"/><rect x="83" y="521.2" width="4.6" height="1" fill="#d5d5d5"/><rect x="83" y="504.6" width="4.6" height="1" fill="#d5d5d5"/><rect x="83" y="487.9" width="4.6" height="1" fill="#d5d5d5"/><rect x="83" y="471.3" width="4.6" height="1" fill="#d5d5d5"/><rect x="83" y="454.7" width="4.6" height="1" fill="#d5d5d5"/><rect x="83" y="438.0" width="4.6" height="1" fill="#d5d5d5"/><rect x="83" y="421.4" width="4.6" height="1" fill="#d5d5d5"/><rect x="87.1" y="555.0" width="1" height="4" fill="#dcdcdc"/><rect x="167.4" y="555.0" width="1" height="4" fill="#dcdcdc"/><rect x="247.7" y="555.0" width="1" height="4" fill="#dcdcdc"/><rect x="328.0" y="555.0" width="1" height="4" fill="#dcdcdc"/><rect x="408.3" y="555.0" width="1" height="4" fill="#dcdcdc"/><rect x="488.6" y="555.0" width="1" height="4" fill="#dcdcdc"/><rect x="568.9" y="555.0" width="1" height="4" fill="#dcdcdc"/>
<g fill="none" stroke-width="1">
<path d="M88.0,486.5 C97.0,478.8 106.1,471.2 115.1,466.2 C121.1,462.9 127.2,460.4 133.2,458.7 C138.2,457.3 143.3,456.0 148.3,456.0 C152.8,456.0 157.3,456.6 161.8,457.9 C166.3,459.2 170.9,460.9 175.4,464.7 C178.6,467.4 181.8,471.9 185.0,475.2 C193.4,483.9 201.7,494.2 210.1,497.8 C213.1,499.1 216.2,500.1 219.2,500.1 C226.2,500.1 233.2,497.9 240.2,496.3 C251.8,493.7 263.4,489.8 275.0,486.0 C281.8,483.8 288.5,480.9 295.3,478.9 C302.1,476.9 308.9,475.2 315.7,473.8 C322.5,472.4 329.2,471.4 336.0,470.7 C342.8,470.0 349.5,469.7 356.3,469.7 C360.4,469.7 364.4,470.0 368.5,470.7 C375.8,471.9 383.0,476.9 390.3,479.9 C397.1,482.8 403.9,488.4 410.7,488.4 C417.5,488.4 424.2,484.3 431.0,481.9 C437.8,479.5 444.5,475.7 451.3,473.8 C455.9,472.5 460.4,471.5 465.0,470.9 C470.0,470.2 475.1,469.9 480.1,469.9 C484.1,469.9 488.1,470.2 492.1,470.9 C497.1,471.7 502.2,474.6 507.2,476.9 C512.2,479.2 517.2,482.4 522.2,484.5 C528.2,487.1 534.3,488.9 540.3,490.5 C547.4,492.4 554.5,493.7 561.6,494.6 C566.9,495.2 572.2,495.7 577.5,495.7 C582.8,495.7 588.0,495.3 593.3,494.9 C598.9,494.5 604.4,493.9 610.0,493.3" stroke="#bc95f7"/>
<path d="M88.0,477.0 C97.0,470.1 106.1,463.2 115.1,458.7 C121.1,455.7 127.2,453.4 133.2,451.9 C138.2,450.7 143.3,449.9 148.3,449.9 C152.8,449.9 157.3,450.3 161.8,451.1 C166.3,451.9 170.9,453.1 175.4,456.4 C178.6,458.7 181.8,462.7 185.0,465.5 C193.4,472.9 201.7,481.0 210.1,483.5 C214.1,484.7 218.2,485.3 222.2,485.3 C228.2,485.3 234.2,483.9 240.2,482.8 C253.5,480.4 266.7,475.2 280.0,471.5 C288.5,469.2 297.0,466.4 305.5,464.6 C313.6,462.8 321.8,463.3 329.9,460.6 C336.0,458.6 342.1,454.6 348.2,452.4 C354.1,450.3 360.1,447.6 366.0,447.6 C372.8,447.6 379.5,454.8 386.3,459.6 C391.0,462.9 395.8,468.1 400.5,470.7 C405.2,473.3 410.0,475.4 414.7,475.4 C420.1,475.4 425.6,473.7 431.0,472.2 C437.8,470.3 444.5,467.4 451.3,464.6 C455.9,462.7 460.4,460.8 465.0,458.4 C469.0,456.3 473.0,453.0 477.0,451.4 C480.5,450.0 484.1,449.1 487.6,449.1 C492.6,449.1 497.7,452.2 502.7,455.1 C507.7,458.0 512.7,463.1 517.7,466.4 C522.7,469.7 527.8,472.3 532.8,474.7 C537.8,477.1 542.8,479.3 547.8,480.7 C552.4,482.0 557.0,482.5 561.6,483.2 C565.8,483.8 570.1,484.8 574.3,484.8 C579.2,484.8 584.2,483.4 589.1,482.7 C596.1,481.7 603.0,480.6 610.0,479.6" stroke="#86adbd"/>
<path d="M88.0,471.9 C97.0,464.9 106.1,457.9 115.1,453.4 C121.1,450.4 127.2,448.2 133.2,446.6 C138.2,445.3 143.3,444.1 148.3,444.1 C152.8,444.1 157.3,444.7 161.8,445.9 C166.3,447.1 170.9,448.1 175.4,451.1 C178.6,453.2 181.8,456.7 185.0,459.4 C193.4,466.4 201.7,476.9 210.1,479.0 C214.1,480.0 218.2,480.5 222.2,480.5 C228.2,480.5 234.2,478.6 240.2,477.5 C253.5,475.0 266.7,470.8 280.0,468.0 C288.5,466.2 297.0,464.8 305.5,463.2 C313.6,461.7 321.8,461.2 329.9,458.5 C336.0,456.5 342.1,452.5 348.2,450.4 C354.1,448.3 360.1,445.7 366.0,445.7 C372.8,445.7 379.5,451.3 386.3,455.5 C391.0,458.4 395.8,463.3 400.5,465.7 C405.2,468.1 410.0,470.1 414.7,470.1 C420.1,470.1 425.6,469.2 431.0,468.1 C437.8,466.7 444.5,464.2 451.3,461.6 C455.9,459.9 460.4,458.2 465.0,455.9 C469.0,453.9 473.0,450.6 477.0,449.1 C480.5,447.8 484.1,446.8 487.6,446.8 C492.6,446.8 497.7,449.4 502.7,452.1 C507.7,454.7 512.7,459.7 517.7,462.7 C522.7,465.7 527.8,467.8 532.8,470.2 C537.8,472.6 542.8,475.2 547.8,477.0 C552.4,478.6 557.0,479.7 561.6,480.6 C565.8,481.4 570.1,482.2 574.3,482.2 C579.2,482.2 584.2,481.1 589.1,480.3 C596.1,479.2 603.0,477.7 610.0,476.2" stroke="#4aa8f5"/>
<path d="M88.0,509.1 C92.0,499.2 96.1,489.2 100.1,481.3 C104.1,473.4 108.1,468.0 112.1,461.7 C115.1,457.0 118.1,451.9 121.1,448.1 C124.1,444.3 127.2,441.2 130.2,438.8 C134.2,435.6 138.2,434.2 142.2,432.8 C146.7,431.3 151.3,430.5 155.8,430.5 C160.3,430.5 164.8,431.6 169.3,433.1 C174.5,434.8 179.8,437.5 185.0,440.6 C190.9,444.1 196.7,449.4 202.6,453.4 C210.1,458.6 217.7,463.1 225.2,467.7 C230.2,470.8 235.2,474.7 240.2,476.7 C244.2,478.3 248.3,479.5 252.3,479.5 C256.3,479.5 260.3,479.0 264.3,478.3 C269.5,477.3 274.8,475.5 280.0,473.7 C285.1,471.9 290.2,469.7 295.3,467.7 C302.1,465.0 308.9,462.5 315.7,459.6 C322.5,456.7 329.2,453.7 336.0,450.4 C340.7,448.1 345.5,445.3 350.2,443.3 C355.6,441.0 361.1,438.0 366.5,438.0 C373.1,438.0 379.7,443.6 386.3,447.4 C391.0,450.1 395.8,454.2 400.5,456.5 C405.2,458.8 410.0,461.2 414.7,461.2 C420.1,461.2 425.6,461.0 431.0,460.6 C437.8,460.1 444.5,458.2 451.3,456.5 C455.9,455.4 460.4,454.3 465.0,452.6 C470.0,450.8 475.1,447.3 480.1,445.8 C485.1,444.3 490.1,443.4 495.1,443.4 C500.1,443.4 505.2,443.5 510.2,443.8 C515.2,444.1 520.2,445.3 525.2,447.6 C529.2,449.4 533.3,452.3 537.3,455.1 C541.9,458.3 546.5,461.6 551.1,465.8 C554.6,469.0 558.1,473.6 561.6,476.4 C565.1,479.2 568.7,482.4 572.2,482.7 C575.7,483.0 579.2,483.2 582.7,483.2 C586.9,483.2 591.2,481.9 595.4,481.4 C600.3,480.8 605.1,480.5 610.0,480.1" stroke="#2f5fcf"/>
<path d="M88.0,461.4 C97.0,455.5 106.1,449.6 115.1,444.4 C121.6,440.6 128.2,436.8 134.7,433.8 C140.7,431.0 146.8,428.3 152.8,426.7 C156.8,425.6 160.8,424.5 164.8,424.5 C168.3,424.5 171.9,424.9 175.4,425.8 C178.6,426.6 181.8,428.7 185.0,430.5 C191.9,434.3 198.7,440.1 205.6,444.4 C214.1,449.7 222.7,453.5 231.2,458.7 C239.2,463.6 247.3,468.9 255.3,474.5 C261.9,479.1 268.4,483.4 275.0,489.0 C279.1,492.5 283.1,495.9 287.2,500.2 C290.6,503.8 294.0,507.3 297.4,512.4 C300.8,517.5 304.1,525.0 307.5,530.7 C310.9,536.5 314.3,542.9 317.7,547.0 C320.9,550.9 324.2,555.2 327.4,555.2 C341.9,555.2 356.5,555.2 371.0,555.2 C375.4,555.2 379.7,553.1 384.1,551.1 C388.1,549.2 392.1,546.9 396.1,543.9 C399.3,541.5 402.6,539.1 405.8,535.4 C407.8,533.1 409.8,530.6 411.8,527.6 C413.4,525.2 415.0,522.9 416.6,519.8 C417.7,517.6 418.9,514.9 420.0,512.5 C421.6,509.0 423.3,506.2 424.9,502.2 C427.6,495.6 430.3,484.9 433.0,477.8 C435.7,470.7 438.4,464.4 441.1,459.6 C444.5,453.5 447.9,449.5 451.3,447.4 C454.7,445.3 458.1,444.3 461.5,444.3 C468.7,444.3 475.9,444.3 483.1,444.3 C489.6,444.3 496.2,441.7 502.7,440.8 C508.7,440.0 514.7,439.0 520.7,439.0 C523.7,439.0 526.8,439.4 529.8,440.1 C534.4,441.2 539.1,446.0 543.7,449.3 C547.9,452.3 552.2,455.8 556.4,459.0 C559.9,461.7 563.4,464.9 566.9,466.9 C570.4,468.9 574.0,470.5 577.5,470.8 C582.8,471.2 588.0,471.2 593.3,471.4 C598.9,471.6 604.4,471.9 610.0,472.2" stroke="#3de39a"/>
</g>
</svg>
<svg class="tx" width="1378" height="664"><text x="634.20" y="425.20" font-size="8.60" fill="#4a4a4a" stroke="#4a4a4a" stroke-width="0.15" textLength="24.89" lengthAdjust="spacingAndGlyphs">Source</text><text x="791.80" y="425.20" font-size="8.60" fill="#4a4a4a" stroke="#4a4a4a" stroke-width="0.15" textLength="17.82" lengthAdjust="spacingAndGlyphs">Total</text><text x="865.30" y="425.20" font-size="8.60" fill="#444" stroke="#444" stroke-width="0.35" textLength="17.82" lengthAdjust="spacingAndGlyphs">Total</text><text x="884.80" y="425.50" font-size="8.60" fill="#999" textLength="9.30" lengthAdjust="spacingAndGlyphs">(%)</text></svg>
<div class="a" style="left:633.5px;top:438px;width:362.5px;height:1px;background:#efefef;"></div>
<div class="a" style="left:634.2px;top:446.1px;width:10.4px;height:10.4px;background:#1c4fd6;border-radius:2px"></div>
<div class="a" style="left:637.1px;top:450.7px;width:4.6px;height:1.2px;background:#fff;"></div>
<svg class="tx" width="1378" height="664"><text x="655.40" y="454.30" font-size="8.60" fill="#555" textLength="39.11" lengthAdjust="spacingAndGlyphs">17.0.174.6</text><text x="789.80" y="454.30" font-size="8.60" fill="#555" textLength="34.01" lengthAdjust="spacingAndGlyphs">297 Kbps</text></svg>
<div class="a" style="left:862px;top:449.5px;width:90.6px;height:3.6px;background:#ececec;border-radius:2px"></div>
<div class="a" style="left:862px;top:448.0px;width:10.8px;height:6.6px;background:#0a8cff;border-radius:3.3px"></div>
<svg class="tx" width="1378" height="664"><text x="958.20" y="454.30" font-size="8.60" fill="#555" textLength="25.02" lengthAdjust="spacingAndGlyphs">11.84%</text></svg>
<div class="a" style="left:633.5px;top:463.1px;width:362.5px;height:1px;background:#efefef;"></div>
<div class="a" style="left:634.2px;top:471.35px;width:10.4px;height:10.4px;background:#3ea0f5;border-radius:2px"></div>
<div class="a" style="left:637.1px;top:475.95px;width:4.6px;height:1.2px;background:#fff;"></div>
<svg class="tx" width="1378" height="664"><text x="655.40" y="479.55" font-size="8.60" fill="#555" textLength="42.98" lengthAdjust="spacingAndGlyphs">17.0.176.27</text><text x="789.80" y="479.55" font-size="8.60" fill="#555" textLength="34.01" lengthAdjust="spacingAndGlyphs">296 Kbps</text></svg>
<div class="a" style="left:862px;top:474.75px;width:90.6px;height:3.6px;background:#ececec;border-radius:2px"></div>
<div class="a" style="left:862px;top:473.25px;width:10.8px;height:6.6px;background:#0a8cff;border-radius:3.3px"></div>
<svg class="tx" width="1378" height="664"><text x="958.20" y="479.55" font-size="8.60" fill="#555" textLength="25.02" lengthAdjust="spacingAndGlyphs">11.80%</text></svg>
<div class="a" style="left:633.5px;top:488.35px;width:362.5px;height:1px;background:#efefef;"></div>
<div class="a" style="left:634.2px;top:496.6px;width:10.4px;height:10.4px;background:#7ea6b6;border-radius:2px"></div>
<div class="a" style="left:637.1px;top:501.2px;width:4.6px;height:1.2px;background:#fff;"></div>
<svg class="tx" width="1378" height="664"><text x="655.40" y="504.80" font-size="8.60" fill="#555" textLength="42.98" lengthAdjust="spacingAndGlyphs">17.0.172.27</text><text x="789.80" y="504.80" font-size="8.60" fill="#555" textLength="34.01" lengthAdjust="spacingAndGlyphs">282 Kbps</text></svg>
<div class="a" style="left:862px;top:500.0px;width:90.6px;height:3.6px;background:#ececec;border-radius:2px"></div>
<div class="a" style="left:862px;top:498.5px;width:10.8px;height:6.6px;background:#0a8cff;border-radius:3.3px"></div>
<svg class="tx" width="1378" height="664"><text x="958.20" y="504.80" font-size="8.60" fill="#555" textLength="25.02" lengthAdjust="spacingAndGlyphs">11.25%</text></svg>
<div class="a" style="left:633.5px;top:513.6px;width:362.5px;height:1px;background:#efefef;"></div>
<div class="a" style="left:634.2px;top:521.8499999999999px;width:10.4px;height:10.4px;background:#2ada7d;border-radius:2px"></div>
<div class="a" style="left:637.1px;top:526.4499999999999px;width:4.6px;height:1.2px;background:#fff;"></div>
<svg class="tx" width="1378" height="664"><text x="655.40" y="530.05" font-size="8.60" fill="#555" textLength="42.98" lengthAdjust="spacingAndGlyphs">17.0.178.40</text><text x="789.80" y="530.05" font-size="8.60" fill="#555" textLength="34.01" lengthAdjust="spacingAndGlyphs">243 Kbps</text></svg>
<div class="a" style="left:862px;top:525.25px;width:90.6px;height:3.6px;background:#ececec;border-radius:2px"></div>
<div class="a" style="left:862px;top:523.75px;width:10.8px;height:6.6px;background:#0a8cff;border-radius:3.3px"></div>
<svg class="tx" width="1378" height="664"><text x="958.20" y="530.05" font-size="8.60" fill="#555" textLength="21.50" lengthAdjust="spacingAndGlyphs">9.67%</text></svg>
<div class="a" style="left:633.5px;top:538.8499999999999px;width:362.5px;height:1px;background:#efefef;"></div>
<div class="a" style="left:634.2px;top:547.0999999999999px;width:10.4px;height:10.4px;background:#b98bf6;border-radius:2px"></div>
<div class="a" style="left:637.1px;top:551.6999999999999px;width:4.6px;height:1.2px;background:#fff;"></div>
<svg class="tx" width="1378" height="664"><text x="655.40" y="555.30" font-size="8.60" fill="#555" textLength="42.98" lengthAdjust="spacingAndGlyphs">17.0.176.12</text><text x="789.80" y="555.30" font-size="8.60" fill="#555" textLength="34.01" lengthAdjust="spacingAndGlyphs">241 Kbps</text></svg>
<div class="a" style="left:862px;top:550.5px;width:90.6px;height:3.6px;background:#ececec;border-radius:2px"></div>
<div class="a" style="left:862px;top:549.0px;width:10.8px;height:6.6px;background:#0a8cff;border-radius:3.3px"></div>
<svg class="tx" width="1378" height="664"><text x="958.20" y="555.30" font-size="8.60" fill="#555" textLength="21.50" lengthAdjust="spacingAndGlyphs">9.62%</text></svg>
<div class="a" style="left:633.5px;top:564.0999999999999px;width:362.5px;height:1px;background:#efefef;"></div>
<div class="a" style="left:995.9px;top:438.5px;width:4.8px;height:67px;background:#c4c4c4;border-radius:2.4px"></div>
<svg class="tx" width="1378" height="664"><text x="62.50" y="619.60" font-size="9.50" fill="#3d4349" stroke="#3d4349" stroke-width="0.3">Top Destination IP Addresses</text><text x="847.20" y="619.40" font-size="9.00" fill="#575c61" textLength="28.81" lengthAdjust="spacingAndGlyphs">Sort By:</text><text x="878.70" y="619.40" font-size="9.00" fill="#1a8cff" textLength="29.11" lengthAdjust="spacingAndGlyphs">Average</text></svg>
<svg style="left:0;top:0" width="1" height="1"><path d="M913.7,614.3 L917.9000000000001,618.9 L922.1,614.3" stroke="#1a8cff" stroke-width="1.3" fill="none"/></svg>
<svg class="tx" width="1378" height="664"><text x="941.70" y="619.40" font-size="9.00" fill="#575c61" textLength="21.51" lengthAdjust="spacingAndGlyphs">Units:</text><text x="966.00" y="619.40" font-size="9.00" fill="#1a8cff" textLength="12.82" lengthAdjust="spacingAndGlyphs">bps</text></svg>
<svg style="left:0;top:0" width="1" height="1"><path d="M984.0,614.3 L988.2,618.9 L992.4,614.3" stroke="#1a8cff" stroke-width="1.3" fill="none"/></svg>
<svg class="tx" width="1378" height="664"><text x="61.70" y="654.40" font-size="7.60" fill="#666" textLength="16.29" lengthAdjust="spacingAndGlyphs">70 M</text><text x="634.20" y="655.40" font-size="8.60" fill="#4a4a4a" stroke="#4a4a4a" stroke-width="0.15" textLength="35.49" lengthAdjust="spacingAndGlyphs">Destination</text><text x="791.80" y="655.40" font-size="8.60" fill="#4a4a4a" stroke="#4a4a4a" stroke-width="0.15" textLength="17.82" lengthAdjust="spacingAndGlyphs">Total</text><text x="865.30" y="655.40" font-size="8.60" fill="#444" stroke="#444" stroke-width="0.35" textLength="17.82" lengthAdjust="spacingAndGlyphs">Total</text><text x="884.80" y="655.70" font-size="8.60" fill="#999" textLength="9.30" lengthAdjust="spacingAndGlyphs">(%)</text></svg>
<svg style="left:0;top:0" width="1378" height="664">
<rect x="84.5" y="652.3" width="1" height="12" fill="#d5d5d5"/>
<rect x="79" y="651.8" width="5" height="1" fill="#d5d5d5"/>
<g fill="none" stroke-width="1">
<path d="M113,664.5 Q156.6,646 194.7,664.5" stroke="#4aa8f5"/>
<path d="M280,664.5 Q290.8,659 303.5,664.5" stroke="#3de39a"/>
<path d="M343.5,664.5 Q356.2,659.5 368.9,664.5" stroke="#bc95f7"/>
<path d="M445,664.5 Q470,657 500,661 Q515,662 530.3,664.5" stroke="#4aa8f5"/>
<path d="M448,664.5 Q470,656 495,662" stroke="#3de39a"/>
<path d="M450,664.5 Q468,659 488,664" stroke="#2f5fcf"/>
<path d="M455,664.5 Q475,658 492,662" stroke="#86adbd"/>
</g></svg>
<svg class="tx" width="1378" height="664"><text x="1041.60" y="133.10" font-size="11.00" fill="#444" textLength="85.01" lengthAdjust="spacingAndGlyphs">Last Week Trends</text><text x="1201.40" y="131.60" font-size="8.60" fill="#777" textLength="70.11" lengthAdjust="spacingAndGlyphs">08/06 - 14/06/2023</text><text x="1285.60" y="131.80" font-size="9.00" fill="#575c61" textLength="21.31" lengthAdjust="spacingAndGlyphs">Units:</text><text x="1309.00" y="131.80" font-size="9.00" fill="#1a8cff" textLength="13.42" lengthAdjust="spacingAndGlyphs">bps</text></svg>
<svg style="left:0;top:0" width="1" height="1"><path d="M1327.7,126.6 L1331.9,131.2 L1336.1000000000001,126.6" stroke="#1a8cff" stroke-width="1.3" fill="none"/></svg>
<svg class="tx" width="1378" height="664"><text x="1042.60" y="169.00" font-size="10.30" fill="#3d4349" stroke="#3d4349" stroke-width="0.4" textLength="49.71" lengthAdjust="spacingAndGlyphs">Top Policies</text></svg>
<svg style="left:0;top:0" width="1378" height="664">
<rect x="1303.9" y="160.0" width="37.4" height="15.4" rx="2.5" fill="#fff" stroke="#e4e4e4" stroke-width="1"/>
<rect x="1323" y="160.5" width="17.8" height="14.4" rx="2" fill="#eef6ff"/>
<rect x="1322.6" y="160.5" width="0.8" height="14.4" fill="#ececec"/>
<g fill="#9a9a9a">
<rect x="1308.2" y="165.0" width="1.3" height="6.9"/><rect x="1311" y="168.2" width="1.1" height="3.7"/>
<rect x="1313.7" y="163.2" width="1.3" height="8.7"/><rect x="1316.4" y="165.0" width="1.3" height="6.9"/>
</g>
<circle cx="1331.9" cy="167.3" r="4.2" fill="none" stroke="#1a8cff" stroke-width="1.3" stroke-dasharray="23.6 2.8" transform="rotate(8 1331.9 167.3)"/>
</svg>
<div class="a" style="left:1042.2px;top:203.2px;width:3.7px;height:18px;background:#1d527f;border-radius:1.8px"></div>
<svg class="tx" width="1378" height="664"><text x="1054.00" y="214.80" font-size="8.10" fill="#555" textLength="82.29" lengthAdjust="spacingAndGlyphs">109_IL_DivertAndMi...</text></svg>
<div class="a" style="left:1042.2px;top:233.85px;width:3.7px;height:18px;background:#0a8cff;border-radius:1.8px"></div>
<svg class="tx" width="1378" height="664"><text x="1054.00" y="245.45" font-size="8.10" fill="#555" textLength="82.29" lengthAdjust="spacingAndGlyphs">105_IL_DivertAndMi...</text></svg>
<div class="a" style="left:1042.2px;top:264.5px;width:3.7px;height:18px;background:#40c3ff;border-radius:1.8px"></div>
<svg class="tx" width="1378" height="664"><text x="1054.00" y="276.10" font-size="8.10" fill="#555" textLength="82.29" lengthAdjust="spacingAndGlyphs">102_IL_DivertAndMi...</text></svg>
<div class="a" style="left:1042.2px;top:295.15px;width:3.7px;height:18px;background:#b2e3fb;border-radius:1.8px"></div>
<svg class="tx" width="1378" height="664"><text x="1054.00" y="306.75" font-size="8.10" fill="#555" textLength="62.51" lengthAdjust="spacingAndGlyphs">111_IL_DivertAn</text></svg>
<div class="a" style="left:1042.2px;top:325.79999999999995px;width:3.7px;height:18px;background:#90c0cf;border-radius:1.8px"></div>
<svg class="tx" width="1378" height="664"><text x="1054.00" y="337.40" font-size="8.10" fill="#555" textLength="62.50" lengthAdjust="spacingAndGlyphs">106_IL_DivertAn</text></svg>
<svg style="left:0;top:0" width="1378" height="664"><g transform="translate(1261.3,271.2) scale(1.024,1) translate(-1261.3,-271.2)"><path d="M1261.30,212.20 A59.0,59.0 0 0 1 1320.00,277.16" stroke="#1f5282" stroke-width="11.6" fill="none"/><path d="M1320.00,277.16 A59.0,59.0 0 0 1 1258.62,330.14" stroke="#0a8cff" stroke-width="11.6" fill="none"/><path d="M1258.62,330.14 A59.0,59.0 0 0 1 1207.57,295.57" stroke="#40c3ff" stroke-width="11.6" fill="none"/><path d="M1207.57,295.57 A59.0,59.0 0 0 1 1210.67,240.90" stroke="#b2e3fb" stroke-width="11.6" fill="none"/><path d="M1210.67,240.90 A59.0,59.0 0 0 1 1261.30,212.20" stroke="#90c0cf" stroke-width="11.6" fill="none"/></g><ellipse cx="1261.3" cy="508.95" rx="60.4" ry="59" stroke="#1f5282" stroke-width="11.6" fill="none"/></svg>
<svg class="tx" width="1378" height="664"><text x="1042.40" y="406.90" font-size="10.30" fill="#3d4349" stroke="#3d4349" stroke-width="0.4" textLength="69.52" lengthAdjust="spacingAndGlyphs">Top Applications</text></svg>
<svg style="left:0;top:0" width="1378" height="664">
<rect x="1303.9" y="398.1" width="37.4" height="15.4" rx="2.5" fill="#fff" stroke="#e4e4e4" stroke-width="1"/>
<rect x="1323" y="398.6" width="17.8" height="14.4" rx="2" fill="#eef6ff"/>
<rect x="1322.6" y="398.6" width="0.8" height="14.4" fill="#ececec"/>
<g fill="#9a9a9a">
<rect x="1308.2" y="403.1" width="1.3" height="6.9"/><rect x="1311" y="406.3" width="1.1" height="3.7"/>
<rect x="1313.7" y="401.3" width="1.3" height="8.7"/><rect x="1316.4" y="403.1" width="1.3" height="6.9"/>
</g>
<circle cx="1331.9" cy="405.40000000000003" r="4.2" fill="none" stroke="#1a8cff" stroke-width="1.3" stroke-dasharray="23.6 2.8" transform="rotate(8 1331.9 405.40000000000003)"/>
</svg>
<div class="a" style="left:1042.0px;top:441.5px;width:3.7px;height:18px;background:#1d527f;border-radius:1.8px"></div>
<svg class="tx" width="1378" height="664"><text x="1053.30" y="447.50" font-size="8.10" fill="#555" textLength="20.51" lengthAdjust="spacingAndGlyphs">HTTP</text><text x="1053.30" y="458.30" font-size="7.00" fill="#888" textLength="13.29" lengthAdjust="spacingAndGlyphs">(80)</text><text x="1042.40" y="644.70" font-size="10.30" fill="#3d4349" stroke="#3d4349" stroke-width="0.4" textLength="57.69" lengthAdjust="spacingAndGlyphs">Top Protocols</text></svg>
<svg style="left:0;top:0" width="1378" height="664">
<rect x="1303.9" y="635.4" width="37.4" height="15.4" rx="2.5" fill="#fff" stroke="#e4e4e4" stroke-width="1"/>
<rect x="1323" y="635.9" width="17.8" height="14.4" rx="2" fill="#eef6ff"/>
<rect x="1322.6" y="635.9" width="0.8" height="14.4" fill="#ececec"/>
<g fill="#9a9a9a">
<rect x="1308.2" y="640.4" width="1.3" height="6.9"/><rect x="1311" y="643.6" width="1.1" height="3.7"/>
<rect x="1313.7" y="638.6" width="1.3" height="8.7"/><rect x="1316.4" y="640.4" width="1.3" height="6.9"/>
</g>
<circle cx="1331.9" cy="642.6999999999999" r="4.2" fill="none" stroke="#1a8cff" stroke-width="1.3" stroke-dasharray="23.6 2.8" transform="rotate(8 1331.9 642.6999999999999)"/>
</svg>
<svg class="tx" width="1378" height="664"><text x="1148.30" y="615.60" font-size="13.50" fill="rgba(120,120,120,0.55)" textLength="112.72" lengthAdjust="spacingAndGlyphs">Activate Windows</text><text x="1148.30" y="630.20" font-size="9.80" fill="rgba(120,120,120,0.55)" textLength="170.50" lengthAdjust="spacingAndGlyphs">Go to Settings to activate Windows.</text></svg>
<div class="a" style="left:627.1px;top:289px;width:138.8px;height:95px;background:rgba(255,255,255,0.72);border-radius:3px;box-shadow:0 1px 4px rgba(0,0,0,0.12);backdrop-filter:blur(8px);-webkit-backdrop-filter:blur(8px)"></div>
<svg style="left:0;top:0" width="1378" height="664"><path d="M627.1,297 L623.3,301.3 L627.1,305.6 Z" fill="rgba(255,255,255,0.72)"/></svg>
<svg class="tx" width="1378" height="664"><text x="652.40" y="310.40" font-size="9.60" fill="#444" stroke="#444" stroke-width="0.2" textLength="92.72" lengthAdjust="spacingAndGlyphs">Jun 14, 2023, 7:45:45 am</text></svg>
<svg style="left:0;top:0" width="1" height="1"><circle cx="645.2" cy="322.3" r="2.4" fill="#1a8cff"/></svg>
<svg class="tx" width="1378" height="664"><text x="653.50" y="325.40" font-size="8.60" fill="#555" textLength="32.69" lengthAdjust="spacingAndGlyphs">Received</text><text x="726.50" y="325.40" font-size="8.60" fill="#333" font-weight="bold" textLength="23.82" lengthAdjust="spacingAndGlyphs">83.7 G</text></svg>
<svg style="left:0;top:0" width="1" height="1"><circle cx="645.2" cy="336.6" r="2.4" fill="#e8173f"/></svg>
<svg class="tx" width="1378" height="664"><text x="653.50" y="339.65" font-size="8.60" fill="#555" textLength="31.01" lengthAdjust="spacingAndGlyphs">Dropped</text><text x="726.50" y="339.65" font-size="8.60" fill="#333" font-weight="bold" textLength="23.82" lengthAdjust="spacingAndGlyphs">83.2 G</text></svg>
<svg style="left:0;top:0" width="1" height="1"><circle cx="645.2" cy="350.8" r="2.4" fill="#5f7684"/></svg>
<svg class="tx" width="1378" height="664"><text x="653.50" y="353.90" font-size="8.60" fill="#555" textLength="32.19" lengthAdjust="spacingAndGlyphs">Excluded</text><text x="745.70" y="353.90" font-size="8.60" fill="#333" font-weight="bold" textLength="4.61" lengthAdjust="spacingAndGlyphs">0</text></svg>
<svg style="left:0;top:0" width="1" height="1"><circle cx="645.2" cy="365.1" r="2.4" fill="#f5a623"/></svg>
<svg class="tx" width="1378" height="664"><text x="653.50" y="368.15" font-size="8.60" fill="#555" textLength="40.00" lengthAdjust="spacingAndGlyphs">Challenged</text><text x="745.70" y="368.15" font-size="8.60" fill="#333" font-weight="bold" textLength="4.61" lengthAdjust="spacingAndGlyphs">0</text></svg>
<div class="a" style="left:1374px;top:32px;width:4px;height:632px;background:#f1f1f1;"></div>
<div class="a" style="left:1374px;top:32px;width:4px;height:270px;background:#c1c1c1;border-radius:2px"></div>
</body></html>
